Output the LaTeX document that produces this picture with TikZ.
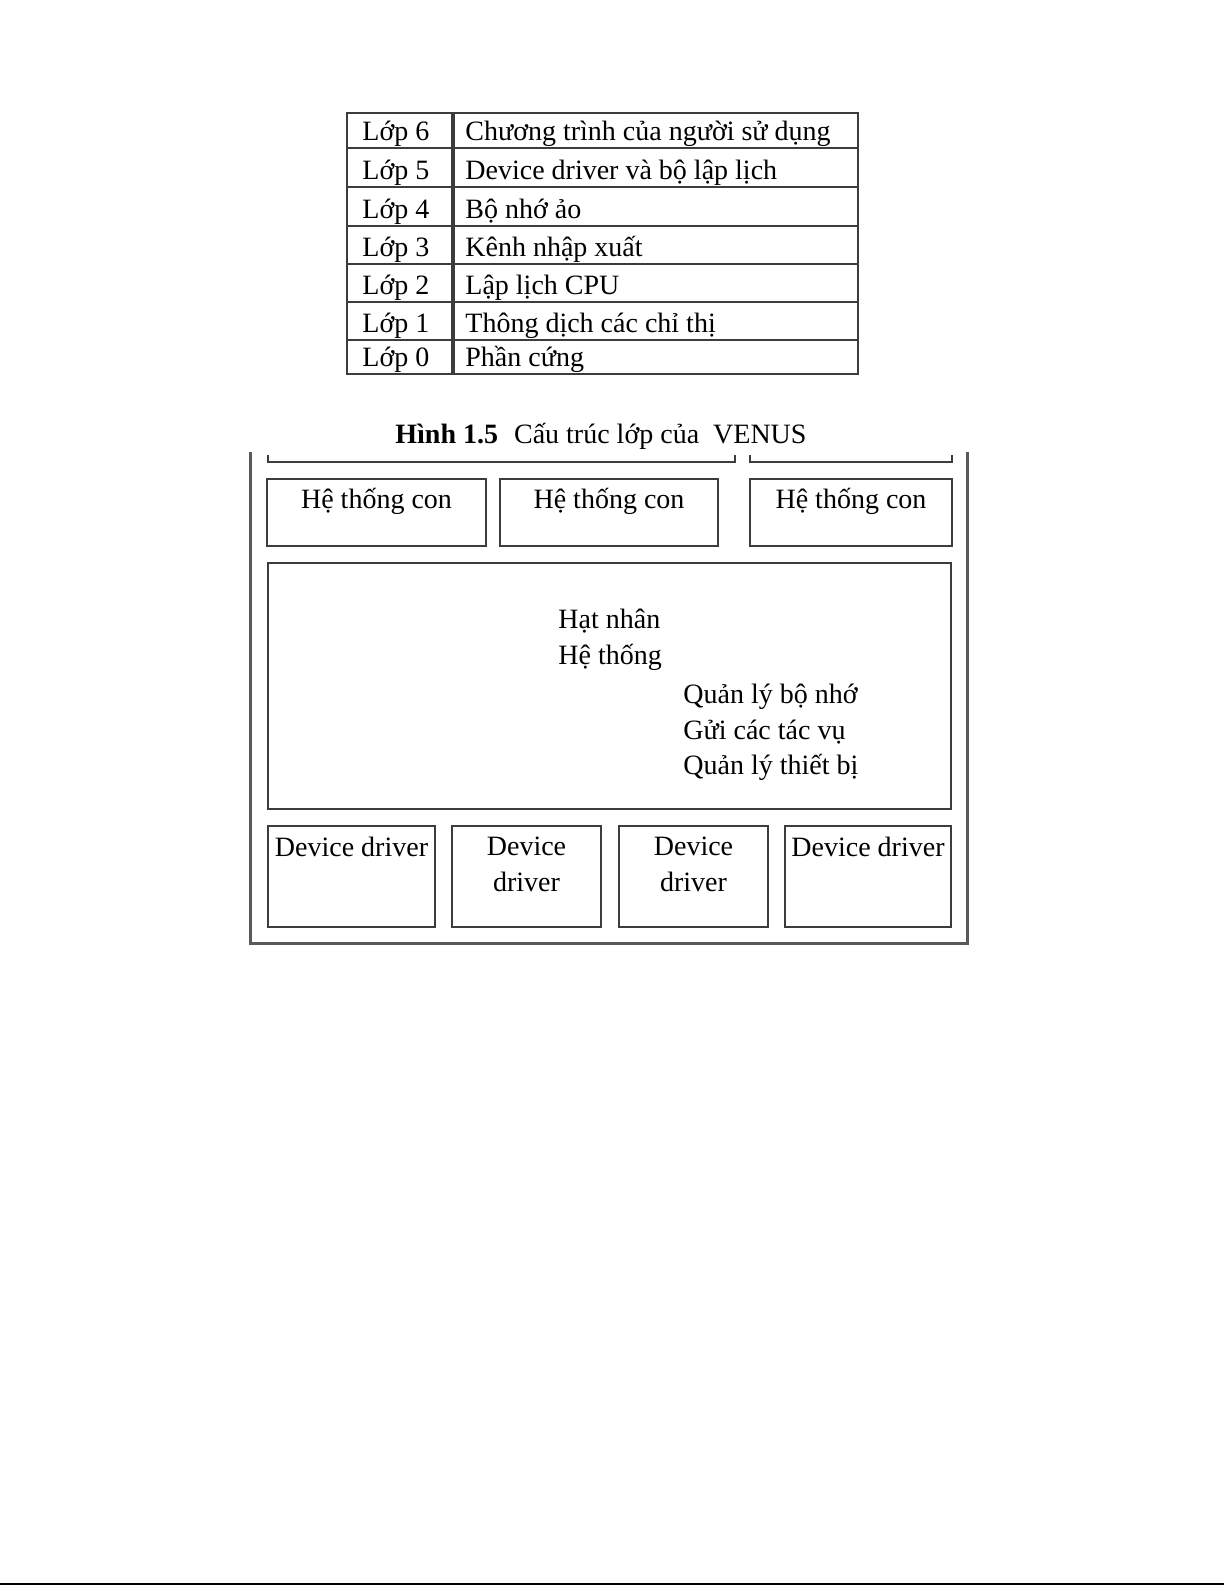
\documentclass[tikz,border=0pt]{standalone}
\usepackage{fontspec}
\setmainfont{Liberation Serif}
\definecolor{kesoc}{HTML}{3C3C3C}
\definecolor{khung}{HTML}{5A5A5A}
\tikzset{
  ke/.style={draw=kesoc, line width=1.1pt},
  chu/.style={font=\fontsize{14pt}{17pt}\selectfont, inner sep=0pt, anchor=base west},
  chugiua/.style={font=\fontsize{14pt}{17pt}\selectfont, inner sep=0pt, anchor=base},
}
\begin{document}
\begin{tikzpicture}[x=0.5pt,y=-0.5pt]
  \useasboundingbox[fill=white] (0,0) rectangle (1225,1585);

  % Bang cac lop
  \draw[ke] (347,113) rectangle (858,374);
  \draw[ke, line width=1.6pt] (453,113) -- (453,374);
  \foreach \y in {148,187,226,264,302,340}
    \draw[ke] (347,\y) -- (858,\y);
  \foreach \n/\y/\t in {6/148/{Chương trình của người sử dụng},
                        5/187/{Device driver và bộ lập lịch},
                        4/226/{Bộ nhớ ảo},
                        3/264/{Kênh nhập xuất},
                        2/302/{Lập lịch CPU},
                        1/340/{Thông dịch các chỉ thị},
                        0/374/{Phần cứng}}
  {
    \node[chu] (lop\n) at (362,\y-8) {Lớp \n};
    \node[chu] (nd\n) at (465,\y-8) {\t};
  }
  \node[chu] (hinh) at (395,443) {\textbf{Hình 1.5}\hspace{8pt}Cấu trúc lớp của\hspace{7pt}VENUS};

  % Khung duoi
  \draw[khung, line width=1.5pt] (250,452) -- (250,943) -- (967,943) -- (967,452);
  \draw[ke] (268,455) -- (268,462) -- (735,462) -- (735,455);
  \draw[ke] (750,455) -- (750,462) -- (952,462) -- (952,455);

  % He thong con
  \foreach \i/\a/\b in {1/267/486, 2/500/718, 3/750/952}
  {
    \draw[ke] (\a,479) rectangle (\b,546);
    \node[chugiua] (htc\i) at ({(\a+\b)/2},508) {Hệ thống con};
  }

  % Hat nhan
  \draw[ke] (268,563) rectangle (951,809);
  \node[chu] (hatnhan) at (558,628) {Hạt nhân};
  \node[chu] (hethong) at (558,664) {Hệ thống};
  \node[chu] (qlbonho) at (683,703) {Quản lý bộ nhớ};
  \node[chu] (guitacvu) at (683,739) {Gửi các tác vụ};
  \node[chu] (qlthietbi) at (683,774) {Quản lý thiết bị};

  % Device driver
  \foreach \a/\b in {268/435, 452/601, 619/768, 785/951}
    \draw[ke] (\a,826) rectangle (\b,927);
  \node[chugiua] (dd1) at (351.5,856) {Device driver};
  \node[chugiua] (dd2a) at (526.5,855) {Device};
  \node[chugiua] (dd2b) at (526.5,891) {driver};
  \node[chugiua] (dd3a) at (693.5,855) {Device};
  \node[chugiua] (dd3b) at (693.5,891) {driver};
  \node[chugiua] (dd4) at (868,856) {Device driver};

  % Duong cuoi trang
  \draw[line width=1pt] (0,1584) -- (1224,1584);
\end{tikzpicture}
\end{document}
